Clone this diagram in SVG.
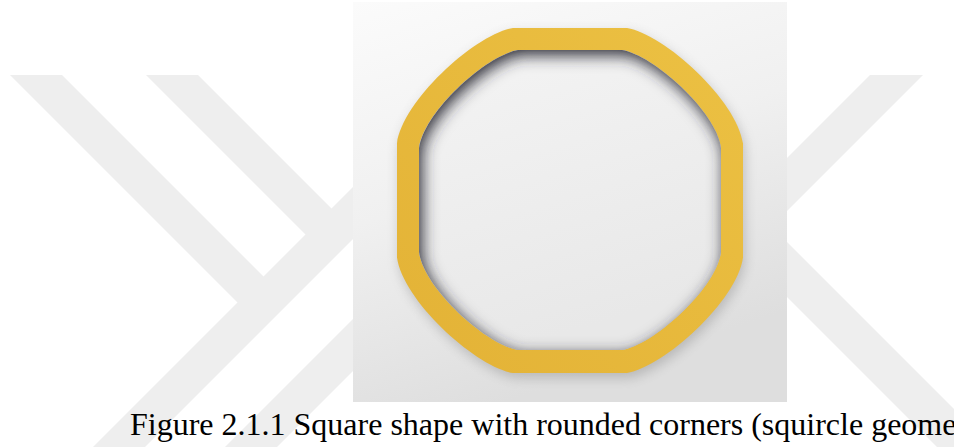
<svg xmlns="http://www.w3.org/2000/svg" width="954" height="447" viewBox="0 0 954 447">
  <defs>
    <style>
      .wm { fill: #eeeeee; }
      .caption { font-family: "Liberation Serif", "Times New Roman", serif; font-size: 32px; fill: #000000; }
    </style>
    <linearGradient id="bgGrad" x1="0" y1="0" x2="0.35" y2="1">
      <stop offset="0" stop-color="#fbfbfb"/>
      <stop offset="0.5" stop-color="#f0f0f0"/>
      <stop offset="1" stop-color="#dedede"/>
    </linearGradient>
    <linearGradient id="innerGrad" x1="0" y1="0" x2="0.3" y2="1">
      <stop offset="0" stop-color="#f4f4f4"/>
      <stop offset="1" stop-color="#e8e8e8"/>
    </linearGradient>
    <linearGradient id="ringGrad" x1="0" y1="1" x2="1" y2="0">
      <stop offset="0" stop-color="#e3b236"/>
      <stop offset="1" stop-color="#ecc143"/>
    </linearGradient>
    <filter id="blurOuter" x="-20%" y="-20%" width="140%" height="140%">
      <feGaussianBlur stdDeviation="6"/>
    </filter>
    <filter id="blurInner" x="-20%" y="-20%" width="140%" height="140%">
      <feGaussianBlur stdDeviation="8"/>
    </filter>
    <path id="outerShape" d="M513,28 L627,28 C664,34 737,100 743,143.5 L743,257.5 C737,301 664,367 627,373 L513,373 C476,367 403,301 397,257.5 L397,143.5 C403,100 476,34 513,28 Z"/>
    <path id="innerShape" d="M518,50 L622,50 C653,55 716,111 721,148 L721,252 C716,289 653,345 622,350 L518,350 C487,345 424,289 419,252 L419,148 C424,111 487,55 518,50 Z"/>
    <clipPath id="innerClip">
      <use href="#innerShape"/>
    </clipPath>
  </defs>

  <rect width="954" height="447" fill="#ffffff"/>

  <g id="watermark">
    <polygon class="wm" points="93,447 465,75 517,75 145,447"/>
    <polygon class="wm" points="10,75 62,75 273.5,286.5 247.5,312.5"/>
    <polygon class="wm" points="146,75 198,75 341.5,218.5 315.5,244.5"/>
    <polygon class="wm" points="225,447 597,75 649,75 277,447"/>
    <polygon class="wm" points="870,75 923,75 698,300 645,300"/>
    <polygon class="wm" points="690,200 745,200 992,447 937,447"/>
  </g>

  <g id="picture">
    <rect x="353" y="2" width="434" height="400" fill="url(#bgGrad)"/>
    <use href="#outerShape" fill="#8a8a8a" opacity="0.45" filter="url(#blurOuter)" transform="translate(2,5)"/>
    <path id="ring" fill="url(#ringGrad)" fill-rule="evenodd" d="M513,28 L627,28 C664,34 737,100 743,143.5 L743,257.5 C737,301 664,367 627,373 L513,373 C476,367 403,301 397,257.5 L397,143.5 C403,100 476,34 513,28 Z M518,50 L622,50 C653,55 716,111 721,148 L721,252 C716,289 653,345 622,350 L518,350 C487,345 424,289 419,252 L419,148 C424,111 487,55 518,50 Z"/>
    <g clip-path="url(#innerClip)">
      <rect x="419" y="50" width="302" height="300" fill="url(#innerGrad)"/>
      <path fill="#2c2c34" fill-rule="evenodd" filter="url(#blurInner)" transform="translate(3,5)" d="M380,10 L760,10 L760,390 L380,390 Z M518,50 L622,50 C653,55 716,111 721,148 L721,252 C716,289 653,345 622,350 L518,350 C487,345 424,289 419,252 L419,148 C424,111 487,55 518,50 Z"/>
    </g>
  </g>

  <g id="caption">
    <text class="caption" x="130" y="435">Figure 2.1.1 Square shape with rounded corners (squircle geome</text>
  </g>
</svg>
